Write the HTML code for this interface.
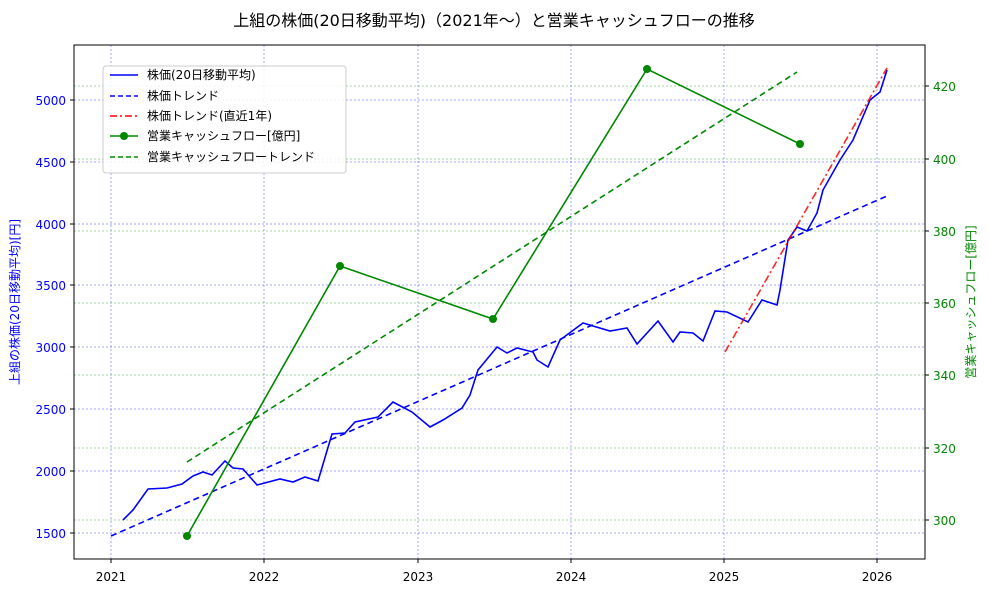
<!DOCTYPE html>
<html><head><meta charset="utf-8"><style>
body{margin:0;background:#fff}
svg{font-family:"DejaVu Sans","Noto Sans CJK JP",sans-serif}
</style></head><body>
<svg width="989" height="593" viewBox="0 0 989 593">
<rect width="989" height="593" fill="#fff"/>
<text x="494" y="26" text-anchor="middle" font-size="16" fill="#000">上組の株価(20日移動平均)（2021年〜）と営業キャッシュフローの推移</text>
<g stroke="#00f" stroke-opacity="0.7" stroke-width="0.5" stroke-dasharray="2,2">
<line x1="111" y1="45" x2="111" y2="559"/><line x1="264" y1="45" x2="264" y2="559"/><line x1="418" y1="45" x2="418" y2="559"/><line x1="571" y1="45" x2="571" y2="559"/><line x1="724" y1="45" x2="724" y2="559"/><line x1="877" y1="45" x2="877" y2="559"/>
<line x1="74" y1="533" x2="925" y2="533"/><line x1="74" y1="471" x2="925" y2="471"/><line x1="74" y1="409" x2="925" y2="409"/><line x1="74" y1="347" x2="925" y2="347"/><line x1="74" y1="285" x2="925" y2="285"/><line x1="74" y1="224" x2="925" y2="224"/><line x1="74" y1="162" x2="925" y2="162"/><line x1="74" y1="100" x2="925" y2="100"/>
</g>
<g stroke="#080" stroke-opacity="0.7" stroke-width="0.5" stroke-dasharray="2,2">
<line x1="74" y1="520" x2="925" y2="520"/><line x1="74" y1="448" x2="925" y2="448"/><line x1="74" y1="375" x2="925" y2="375"/><line x1="74" y1="303" x2="925" y2="303"/><line x1="74" y1="231" x2="925" y2="231"/><line x1="74" y1="159" x2="925" y2="159"/><line x1="74" y1="86" x2="925" y2="86"/>
</g>
<polyline fill="none" stroke="#00f" stroke-width="1.6" points="123,520 133,510 148,489 167,488 182,484 193,476 203,472 212,475 225,461 233,468 243,469 257,485 280,479 293,482 305,477 318,481 332,434 345,433 355,422 378,417 393,402 412,412 430,427 443,420 462,408 470,395 478,370 497,347 507,353 517,348 533,352 537,360 548,367 560,340 583,323 593,326 610,331 627,328 637,344 658,321 673,342 680,332 693,333 703,341 715,311 727,312 748,322 762,300 777,305 780,290 788,240 797,227 807,231 817,213 823,190 840,160 853,140 870,100 880,92 887,70"/>
<line x1="111" y1="536" x2="887" y2="196" stroke="#00f" stroke-width="1.6" stroke-dasharray="6,4"/>
<line x1="725" y1="352" x2="887" y2="68" stroke="#f00" stroke-opacity="0.85" stroke-width="1.6" stroke-dasharray="8,3,2,3"/>
<line x1="187" y1="462" x2="797" y2="72" stroke="#080" stroke-width="1.6" stroke-dasharray="6,4"/>
<polyline fill="none" stroke="#080" stroke-width="1.6" points="187,536 340,266 493,319 647,69 800,144"/>
<g fill="#080"><circle cx="187" cy="536" r="4"/><circle cx="340" cy="266" r="4"/><circle cx="493" cy="319" r="4"/><circle cx="647" cy="69" r="4"/><circle cx="800" cy="144" r="4"/></g>
<rect x="74" y="45" width="851" height="514" fill="none" stroke="#000" stroke-width="1"/>
<g stroke="#000"><line x1="111" y1="559" x2="111" y2="563"/><line x1="264" y1="559" x2="264" y2="563"/><line x1="418" y1="559" x2="418" y2="563"/><line x1="571" y1="559" x2="571" y2="563"/><line x1="724" y1="559" x2="724" y2="563"/><line x1="877" y1="559" x2="877" y2="563"/>
<line x1="70" y1="533" x2="74" y2="533"/><line x1="70" y1="471" x2="74" y2="471"/><line x1="70" y1="409" x2="74" y2="409"/><line x1="70" y1="347" x2="74" y2="347"/><line x1="70" y1="285" x2="74" y2="285"/><line x1="70" y1="224" x2="74" y2="224"/><line x1="70" y1="162" x2="74" y2="162"/><line x1="70" y1="100" x2="74" y2="100"/>
<line x1="925" y1="520" x2="929" y2="520"/><line x1="925" y1="448" x2="929" y2="448"/><line x1="925" y1="375" x2="929" y2="375"/><line x1="925" y1="303" x2="929" y2="303"/><line x1="925" y1="231" x2="929" y2="231"/><line x1="925" y1="159" x2="929" y2="159"/><line x1="925" y1="86" x2="929" y2="86"/></g>
<g font-size="12" text-anchor="middle" fill="#000"><text x="111" y="581">2021</text><text x="264" y="581">2022</text><text x="418" y="581">2023</text><text x="571" y="581">2024</text><text x="724" y="581">2025</text><text x="877" y="581">2026</text></g>
<g font-size="12" text-anchor="end" fill="#00f"><text x="66" y="538">1500</text><text x="66" y="476">2000</text><text x="66" y="414">2500</text><text x="66" y="352">3000</text><text x="66" y="290">3500</text><text x="66" y="229">4000</text><text x="66" y="167">4500</text><text x="66" y="105">5000</text></g>
<g font-size="12" fill="#080"><text x="933" y="525">300</text><text x="933" y="453">320</text><text x="933" y="380">340</text><text x="933" y="308">360</text><text x="933" y="236">380</text><text x="933" y="164">400</text><text x="933" y="91">420</text></g>
<text transform="translate(19,302) rotate(-90)" text-anchor="middle" font-size="12" fill="#00f">上組の株価(20日移動平均)[円]</text>
<text transform="translate(975,302) rotate(-90)" text-anchor="middle" font-size="12" fill="#080">営業キャッシュフロー[億円]</text>
<rect x="103" y="66" width="243" height="107" rx="3" fill="#fff" fill-opacity="0.85" stroke="#ccc"/>
<g stroke-width="1.6">
<line x1="110" y1="75" x2="138" y2="75" stroke="#00f"/>
<line x1="110" y1="96" x2="138" y2="96" stroke="#00f" stroke-dasharray="5,3"/>
<line x1="110" y1="116" x2="138" y2="116" stroke="#f00" stroke-dasharray="7,3,2,3"/>
<line x1="110" y1="136" x2="138" y2="136" stroke="#080"/>
<line x1="110" y1="157" x2="138" y2="157" stroke="#080" stroke-dasharray="5,3"/>
</g>
<circle cx="124" cy="136" r="4" fill="#080"/>
<g font-size="12" fill="#000"><text x="147" y="79">株価(20日移動平均)</text><text x="147" y="100">株価トレンド</text><text x="147" y="120">株価トレンド(直近1年)</text><text x="147" y="140">営業キャッシュフロー[億円]</text><text x="147" y="161">営業キャッシュフロートレンド</text></g>
</svg>
</body></html>
